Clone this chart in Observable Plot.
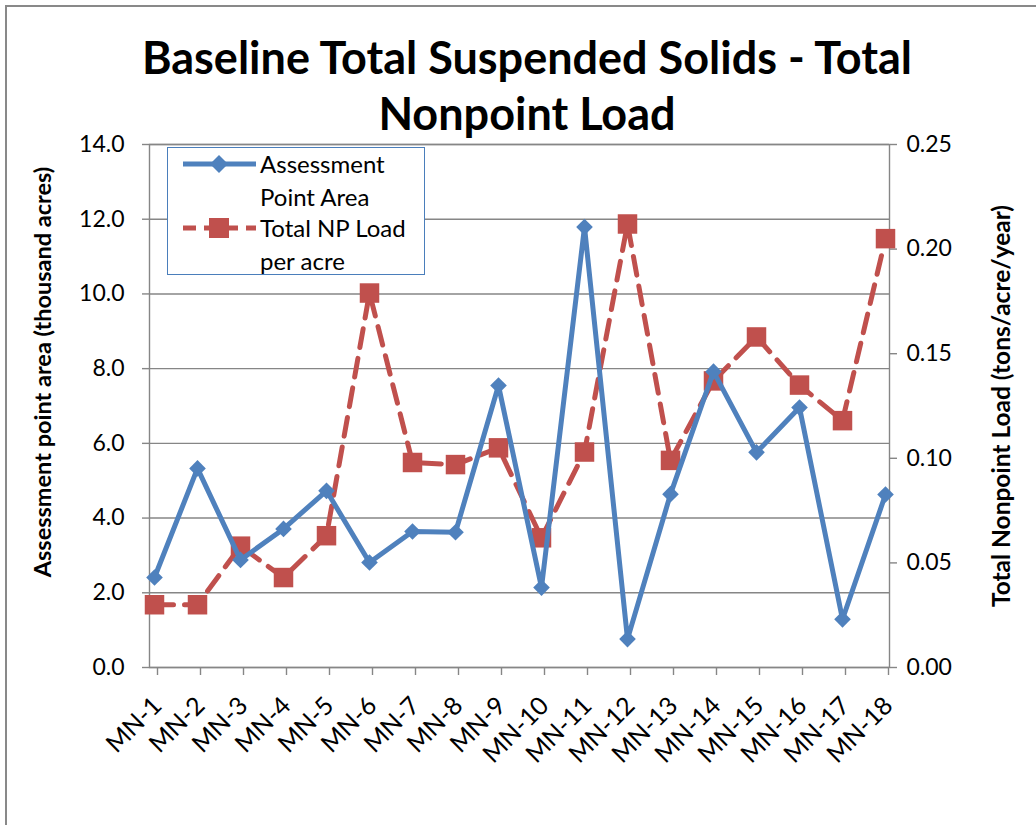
<!DOCTYPE html>
<html><head><meta charset="utf-8">
<script src="https://cdn.jsdelivr.net/npm/d3@7"></script>
<script src="https://cdn.jsdelivr.net/npm/@observablehq/plot@0.6"></script>
<style>
html,body{margin:0;padding:0;background:#fff;overflow:hidden;}
#wrap{position:relative;width:1036px;height:825px;overflow:hidden;font-family:Lato,"Open Sans",sans-serif;color:#000;}
#frame{position:absolute;left:5px;top:5px;width:1100px;height:900px;border:2px solid #898989;box-sizing:border-box;}
#title{position:absolute;left:0;width:1054px;top:29px;text-align:center;font-weight:bold;font-size:45px;line-height:56px;}
#chart{position:absolute;left:0;top:0;}
.ytitle{position:absolute;font-weight:bold;white-space:nowrap;transform:translate(-50%,-50%) rotate(-90deg);}
#legend{position:absolute;left:167px;top:147px;width:258px;height:128px;border:1.5px solid #4a7ebb;box-sizing:border-box;background:#fff;}
#legend svg{position:absolute;left:0;top:0;}
.lt{position:absolute;left:92px;font-size:24px;line-height:33px;white-space:nowrap;}
</style></head>
<body>
<div id="wrap">
  <div id="frame"></div>
  <div id="chart"></div>
  <div id="title">Baseline Total Suspended Solids - Total<br>Nonpoint Load</div>
  <div class="ytitle" style="left:42px;top:372px;font-size:23.5px;">Assessment point area (thousand acres)</div>
  <div class="ytitle" style="left:1000px;top:406px;font-size:24.5px;">Total Nonpoint Load (tons/acre/year)</div>
  <div id="legend">
    <svg width="258" height="128">
      <line x1="15" y1="16" x2="88" y2="16" stroke="#4f81bd" stroke-width="5"/>
      <path d="M51,7 L60,16 L51,25 L42,16 Z" fill="#4f81bd"/>
      <line x1="15" y1="80" x2="88" y2="80" stroke="#c0504d" stroke-width="5" stroke-dasharray="13,8"/>
      <rect x="41" y="70" width="20" height="20" fill="#c0504d"/>
    </svg>
    <div class="lt" style="top:-1px;">Assessment<br>Point Area</div>
    <div class="lt" style="top:63px;">Total NP Load<br>per acre</div>
  </div>
</div>
<script>
const categories = ["MN-1","MN-2","MN-3","MN-4","MN-5","MN-6","MN-7","MN-8","MN-9","MN-10","MN-11","MN-12","MN-13","MN-14","MN-15","MN-16","MN-17","MN-18"];
const areaValues = [2.41,5.33,2.88,3.71,4.73,2.81,3.64,3.62,7.55,2.14,11.79,0.76,4.64,7.92,5.76,6.96,1.29,4.63];
const loadValues = [0.030,0.030,0.058,0.043,0.063,0.179,0.098,0.097,0.105,0.062,0.103,0.212,0.099,0.137,0.158,0.135,0.118,0.205];
const leftTicks = [0,2,4,6,8,10,12,14];
const rightTicks = [0,0.05,0.10,0.15,0.20,0.25];
const leftMax = 14, rightMax = 0.25;
const k = leftMax / rightMax;

const area = categories.map((c, i) => ({cat: c, v: areaValues[i]}));
const load = categories.map((c, i) => ({cat: c, v: loadValues[i] * k}));

const blue = "#4f81bd", red = "#c0504d", grid = "#868686";

const chart = Plot.plot({
  width: 1036, height: 825,
  marginLeft: 149, marginRight: 147, marginTop: 144, marginBottom: 158,
  x: {type: "point", domain: categories, padding: 0},
  y: {domain: [0, leftMax]},
  style: {fontFamily: "Lato, 'Open Sans', sans-serif", fontSize: "23px", color: "#000", background: "transparent"},
  marks: [
    Plot.gridY(leftTicks, {stroke: grid, strokeOpacity: 1, strokeWidth: 1.4}),
    Plot.frame({stroke: grid, strokeWidth: 1.4}),
    Plot.axisY(leftTicks, {anchor: "left", tickFormat: d => d.toFixed(1), tickSize: 7, tickPadding: 18, stroke: grid, strokeWidth: 1.4, label: null, fontSize: 23}),
    Plot.axisY(rightTicks.map(t => t * k), {anchor: "right", tickFormat: d => (d / k).toFixed(2), tickSize: 7, tickPadding: 10, stroke: grid, strokeWidth: 1.4, label: null, fontSize: 23}),
    Plot.axisX(categories, {anchor: "bottom", tickSize: 8, tickPadding: 26, tickRotate: -45, dx: 3, stroke: grid, strokeWidth: 1.4, label: null, fontSize: 25}),
    Plot.line(load, {x: "cat", y: "v", stroke: red, strokeWidth: 5, strokeDasharray: "19,11"}),
    Plot.dot(load, {x: "cat", y: "v", symbol: "square", r: 11, fill: red, stroke: null}),
    Plot.line(area, {x: "cat", y: "v", stroke: blue, strokeWidth: 5}),
    Plot.dot(area, {x: "cat", y: "v", symbol: "diamond2", r: 7.5, fill: blue, stroke: null})
  ]
});
document.getElementById("chart").appendChild(chart);
</script>
</body></html>
